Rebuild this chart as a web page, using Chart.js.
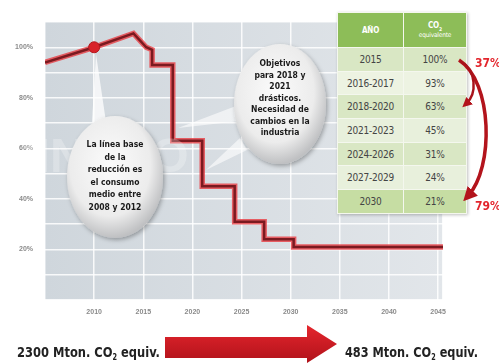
<!DOCTYPE html>
<html>
<head>
<meta charset="utf-8">
<script src="https://cdn.jsdelivr.net/npm/chart.js@4.4.1/dist/chart.umd.min.js"></script>
<style>
  html, body { margin: 0; padding: 0; background: #fff; }
  #wrap { position: relative; width: 499px; height: 363px; overflow: hidden; }
  #myChart { position: absolute; left: 0; top: 0; }
  #tabla {
    position: absolute; left: 337px; top: 12px; width: 130px;
    border-collapse: collapse; box-shadow: 1px 1px 3px rgba(0,0,0,0.25);
    font-family: "DejaVu Sans Condensed", "Liberation Sans", sans-serif;
    color: #444; font-size: 10px; text-align: center; letter-spacing: -0.2px;
  }
  #tabla td, #tabla th { padding: 0; border: 1px solid #f4f7ee; }
  #tabla th { background: #8dbd58; color: #fff; height: 34px; font-weight: bold; font-size: 8px; }
  #tabla th small { display: block; font-size: 6.5px; font-weight: normal; line-height: 8px; }
  #tabla td { height: 22.7px; }
  #overlay { position: absolute; left: 0; top: 0; }
</style>
</head>
<body>
<div id="wrap">
  <canvas id="myChart" width="499" height="363"></canvas>
  <table id="tabla"></table>
  <svg id="overlay" width="499" height="363" xmlns="http://www.w3.org/2000/svg"></svg>
</div>
<script>
// step line (year, % of 2008-2012 base)
const lineYears = [2005, 2010, 2014, 2015.3, 2015.9, 2015.9, 2018, 2018, 2021, 2021, 2024.3, 2024.3, 2027.3, 2027.3, 2030.3, 2030.3, 2045.5];
const lineValues = [94, 100, 105.5, 100, 99, 93, 93, 63, 63, 45, 45, 31, 31, 24, 24, 21, 21];
const baseYear = 2010;
const baseValue = 100;

// table on the right
const tableYears = ["2015", "2016-2017", "2018-2020", "2021-2023", "2024-2026", "2027-2029", "2030"];
const tableCO2 = ["100%", "93%", "63%", "45%", "31%", "24%", "21%"];
const rowColors = ["#d9e7c4", "#edf3e2", "#d9e7c4", "#e8f0dc", "#d9e7c4", "#e8f0dc", "#c6dda3"];

const xGridYears = [2005, 2010, 2015, 2020, 2025, 2030, 2035, 2040, 2045, 2045.5];
const xTickYears = [2010, 2015, 2020, 2025, 2030, 2035, 2040, 2045];
const yTickLabels = [20, 40, 60, 80, 100];

const leftNote = ["La línea base", "de la", "reducción es", "el consumo", "medio entre", "2008 y 2012"];
const rightNote = ["Objetivos", "para 2018 y", "2021", "drásticos.", "Necesidad de", "cambios en la", "industria"];

(function main() {
  buildTable();
  plotChart();
  drawOverlay();
})();

function buildTable() {
  const t = document.getElementById("tabla");
  let html = '<tr><th style="width:65px">AÑO</th><th>CO<sub style="font-size:5px">2</sub><small>equivalente</small></th></tr>';
  tableYears.forEach((y, i) => {
    html += `<tr style="background:${rowColors[i]}"><td>${y}</td><td>${tableCO2[i]}</td></tr>`;
  });
  t.innerHTML = html;
}

function plotChart() {
  const ctx = document.getElementById("myChart");
  const points = lineYears.map((x, i) => ({ x, y: lineValues[i] }));

  const plotBg = {
    id: "plotBg",
    beforeDraw(chart) {
      const { ctx, chartArea: a } = chart;
      const g = ctx.createLinearGradient(a.left, 0, a.right, 0);
      g.addColorStop(0, "#cfd6dc");
      g.addColorStop(1, "#e2e6ea");
      ctx.save();
      ctx.fillStyle = g;
      ctx.fillRect(a.left, a.top, a.right - a.left, a.bottom - a.top);
      ctx.restore();
    },
  };

  new Chart(ctx, {
    type: "line",
    data: {
      datasets: [
        {
          type: "scatter",
          data: [{ x: baseYear, y: baseValue }],
          pointRadius: 5.5,
          pointBackgroundColor: "#d8222a",
          pointBorderColor: "#b31a20",
          pointBorderWidth: 1,
        },
        {
          data: points,
          borderColor: "#7a1a20",
          borderWidth: 2.5,
          pointRadius: 0,
          tension: 0,
        },
        {
          data: points,
          borderColor: "rgba(232,60,66,0.8)",
          borderWidth: 5.5,
          pointRadius: 0,
          tension: 0,
        },
      ],
    },
    options: {
      responsive: false,
      animation: false,
      devicePixelRatio: 1,
      layout: { padding: { left: 0, top: 22, right: 56, bottom: 0 } },
      plugins: { legend: { display: false }, tooltip: { enabled: false } },
      scales: {
        x: {
          type: "linear",
          min: 2005,
          max: 2045.5,
          afterFit(scale) { scale.height = 63; },
          afterBuildTicks(scale) { scale.ticks = xGridYears.map((v) => ({ value: v })); },
          grid: { color: "rgba(255,255,255,0.85)", lineWidth: 1.5, drawTicks: false },
          border: { display: false },
          ticks: {
            autoSkip: false,
            maxRotation: 0,
            padding: 8,
            color: "#8a8a8a",
            font: { family: "Liberation Sans", size: 7, weight: "bold" },
            callback: (v) => (xTickYears.includes(v) ? String(v) : ""),
          },
        },
        y: {
          min: 0,
          max: 110,
          afterFit(scale) { scale.width = 45; },
          grid: { color: "rgba(255,255,255,0.85)", lineWidth: 1.5, drawTicks: false },
          border: { display: false },
          ticks: {
            stepSize: 10,
            padding: 12,
            color: "#8a8a8a",
            font: { family: "Liberation Sans", size: 7, weight: "bold" },
            callback: (v) => (yTickLabels.includes(v) ? v + "%" : ""),
          },
        },
      },
    },
    plugins: [plotBg],
  });
}

function drawOverlay() {
  const svg = document.getElementById("overlay");
  const font = "'DejaVu Sans Condensed', 'Liberation Sans', sans-serif";
  const lines = (arr, cx, y0, dy) =>
    arr.map((s, i) => `<tspan x="${cx}" y="${y0 + i * dy}">${s}</tspan>`).join("");

  svg.innerHTML = `
  <defs>
    <radialGradient id="bubble" cx="45%" cy="40%" r="60%">
      <stop offset="0" stop-color="#fbfbfb"/>
      <stop offset="0.7" stop-color="#ececec"/>
      <stop offset="1" stop-color="#bfc0c2"/>
    </radialGradient>
    <filter id="sh" x="-20%" y="-20%" width="140%" height="140%">
      <feDropShadow dx="1.5" dy="2" stdDeviation="2" flood-color="#000" flood-opacity="0.3"/>
    </filter>
    <linearGradient id="arrowG" x1="0" y1="0" x2="0" y2="1">
      <stop offset="0" stop-color="#e5262d"/>
      <stop offset="1" stop-color="#b0121a"/>
    </linearGradient>
    <marker id="head" markerWidth="4" markerHeight="4" refX="2" refY="2" orient="auto" markerUnits="strokeWidth">
      <path d="M0,0 L4,2 L0,4 Z" fill="#b3141c"/>
    </marker>
  </defs>

  <text x="2" y="172" font-family="Liberation Sans" font-weight="bold" font-size="48" fill="#ffffff" opacity="0.25">DINERO</text>

  <polygon points="96,54 92,122 106,122" fill="#ffffff" opacity="0.75"/>
  <polygon points="178,128 236,106 240,121" fill="#ffffff" opacity="0.6"/>
  <polygon points="206,170 240,138 247,150" fill="#ffffff" opacity="0.6"/>

  <ellipse cx="115" cy="177" rx="48" ry="61" fill="url(#bubble)" filter="url(#sh)"/>
  <ellipse cx="280" cy="104" rx="46" ry="60" fill="url(#bubble)" filter="url(#sh)"/>

  <text font-family="${font}" font-weight="bold" font-size="8.5" fill="#1b1b1b" text-anchor="middle">${lines(leftNote, 115, 147, 12.5)}</text>
  <text font-family="${font}" font-weight="bold" font-size="8.5" fill="#1b1b1b" text-anchor="middle">${lines(rightNote, 280, 66, 11.5)}</text>

  <path d="M459,60 C493,82 494,168 468,196" fill="none" stroke="#b3141c" stroke-width="3.5" marker-end="url(#head)"/>
  <path d="M460,61 C477,70 477,94 466,104" fill="none" stroke="#a8131b" stroke-width="2.5" marker-end="url(#head)"/>
  <text x="475" y="67" font-family="${font}" font-weight="bold" font-size="12" fill="#e3262d">37%</text>
  <text x="475" y="210" font-family="${font}" font-weight="bold" font-size="12" fill="#e3262d">79%</text>

  <path d="M165,337 L307,337 L307,325 L337,344 L307,363 L307,358 L165,358 Z" fill="url(#arrowG)"/>
  <text x="17" y="357" textLength="143" lengthAdjust="spacingAndGlyphs" font-family="${font}" font-weight="bold" font-size="14" fill="#222">2300 Mton. CO<tspan font-size="8" dy="3">2</tspan><tspan dy="-3"> equiv.</tspan></text>
  <text x="345" y="357" textLength="133" lengthAdjust="spacingAndGlyphs" font-family="${font}" font-weight="bold" font-size="14" fill="#222">483 Mton. CO<tspan font-size="8" dy="3">2</tspan><tspan dy="-3"> equiv.</tspan></text>
  `;
}
</script>
</body>
</html>
